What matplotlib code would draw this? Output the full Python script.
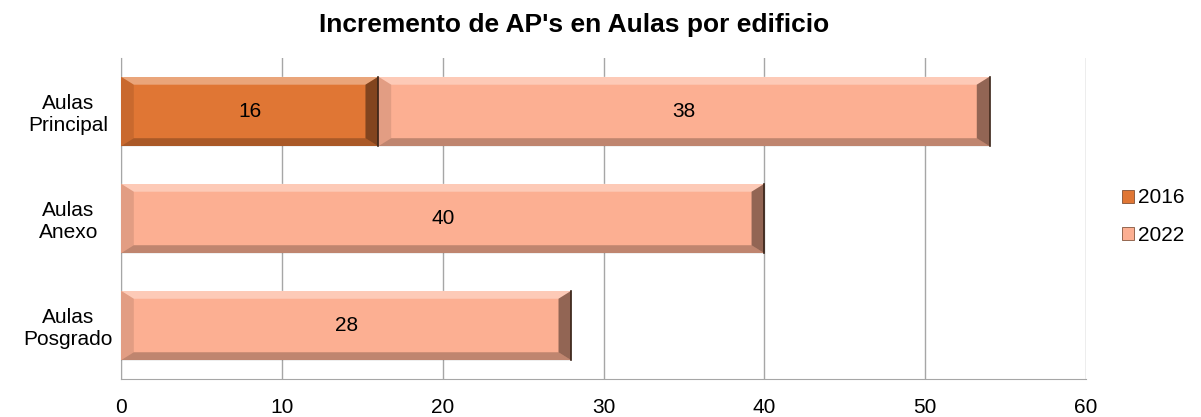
import numpy as np
import matplotlib.pyplot as plt
from matplotlib.patches import Polygon, Patch

plt.rcParams['font.family'] = ['Liberation Sans', 'DejaVu Sans']

# ---------------------------------------
# Data
# ---------------------------------------

edificios = ["Aulas\nPrincipal", "Aulas\nAnexo", "Aulas\nPosgrado"]
aps_2016 = [16, 0, 0]
aps_2022 = [38, 40, 28]

series = ["2016", "2022"]
colores = ["#E07634", "#FCAF92"]

# ---------------------------------------
# Plot
# ---------------------------------------

fig = plt.figure(figsize=(12.01, 4.17), dpi=100)
ax = fig.add_axes([0.1007, 0.0911, 0.8037, 0.770])

y = np.arange(len(edificios))
alto = 0.65


def bisel(ax, x0, ancho, yc, h, dx=0.8, dy=0.075):
    # Simple bevel look: light top, dark bottom and right, soft left
    x1 = x0 + ancho
    y0, y1 = yc - h / 2, yc + h / 2
    # y axis is inverted, so y1 is the visual bottom edge
    top = [(x0, y0), (x1, y0), (x1 - dx, y0 + dy), (x0 + dx, y0 + dy)]
    bottom = [(x0, y1), (x1, y1), (x1 - dx, y1 - dy), (x0 + dx, y1 - dy)]
    right = [(x1, y0), (x1, y1), (x1 - dx, y1 - dy), (x1 - dx, y0 + dy)]
    left = [(x0, y0), (x0, y1), (x0 + dx, y1 - dy), (x0 + dx, y0 + dy)]
    ax.add_patch(Polygon(top, closed=True, facecolor="white", alpha=0.35,
                         edgecolor="none", zorder=4))
    ax.add_patch(Polygon(bottom, closed=True, facecolor="black", alpha=0.24,
                         edgecolor="none", zorder=4))
    ax.add_patch(Polygon(right, closed=True, facecolor="black", alpha=0.42,
                         edgecolor="none", zorder=4))
    ax.add_patch(Polygon(left, closed=True, facecolor="black", alpha=0.10,
                         edgecolor="none", zorder=4))
    ax.plot([x1, x1], [y0, y1], color="#3a2418", lw=1.2, zorder=5)


izq = np.zeros(len(edificios))
for nombre, valores, color in zip(series, [aps_2016, aps_2022], colores):
    valores = np.array(valores, dtype=float)
    ax.barh(y, valores, left=izq, height=alto, color=color,
            edgecolor="none", zorder=3)
    for i, v in enumerate(valores):
        if v > 0:
            bisel(ax, izq[i], v, y[i], alto)
            ax.text(izq[i] + v / 2, y[i], f"{v:g}", ha="center",
                    va="center", fontsize=15, zorder=6)
    izq = izq + valores

ax.set_xlim(0, 60)
ax.set_ylim(len(edificios) - 0.5, -0.5)
ax.set_xticks(range(0, 61, 10))
ax.set_yticks(y)
ax.set_yticklabels(edificios, fontsize=15, ha="center")
ax.tick_params(axis="y", length=0, pad=38)
ax.tick_params(axis="x", length=0, labelsize=15, pad=14)

ax.grid(axis="x", color="#a6a6a6", lw=1, zorder=0)
for lado in ["top", "right"]:
    ax.spines[lado].set_visible(False)
ax.spines["left"].set_color("#a6a6a6")
ax.spines["bottom"].set_color("#a6a6a6")

ax.set_title("Incremento de AP's en Aulas por edificio",
             fontsize=19, fontweight="bold", pad=19, x=0.469)

handles = [Patch(facecolor=c, edgecolor="#6b3b20", lw=0.5) for c in colores]
fig.legend(handles, series, loc="center left", bbox_to_anchor=(0.934, 0.48),
           bbox_transform=fig.transFigure, frameon=False, fontsize=15,
           handlelength=0.6, handleheight=0.6, handletextpad=0.2,
           labelspacing=0.9, borderpad=0, borderaxespad=0)

fig.savefig("out.png", dpi=100)
